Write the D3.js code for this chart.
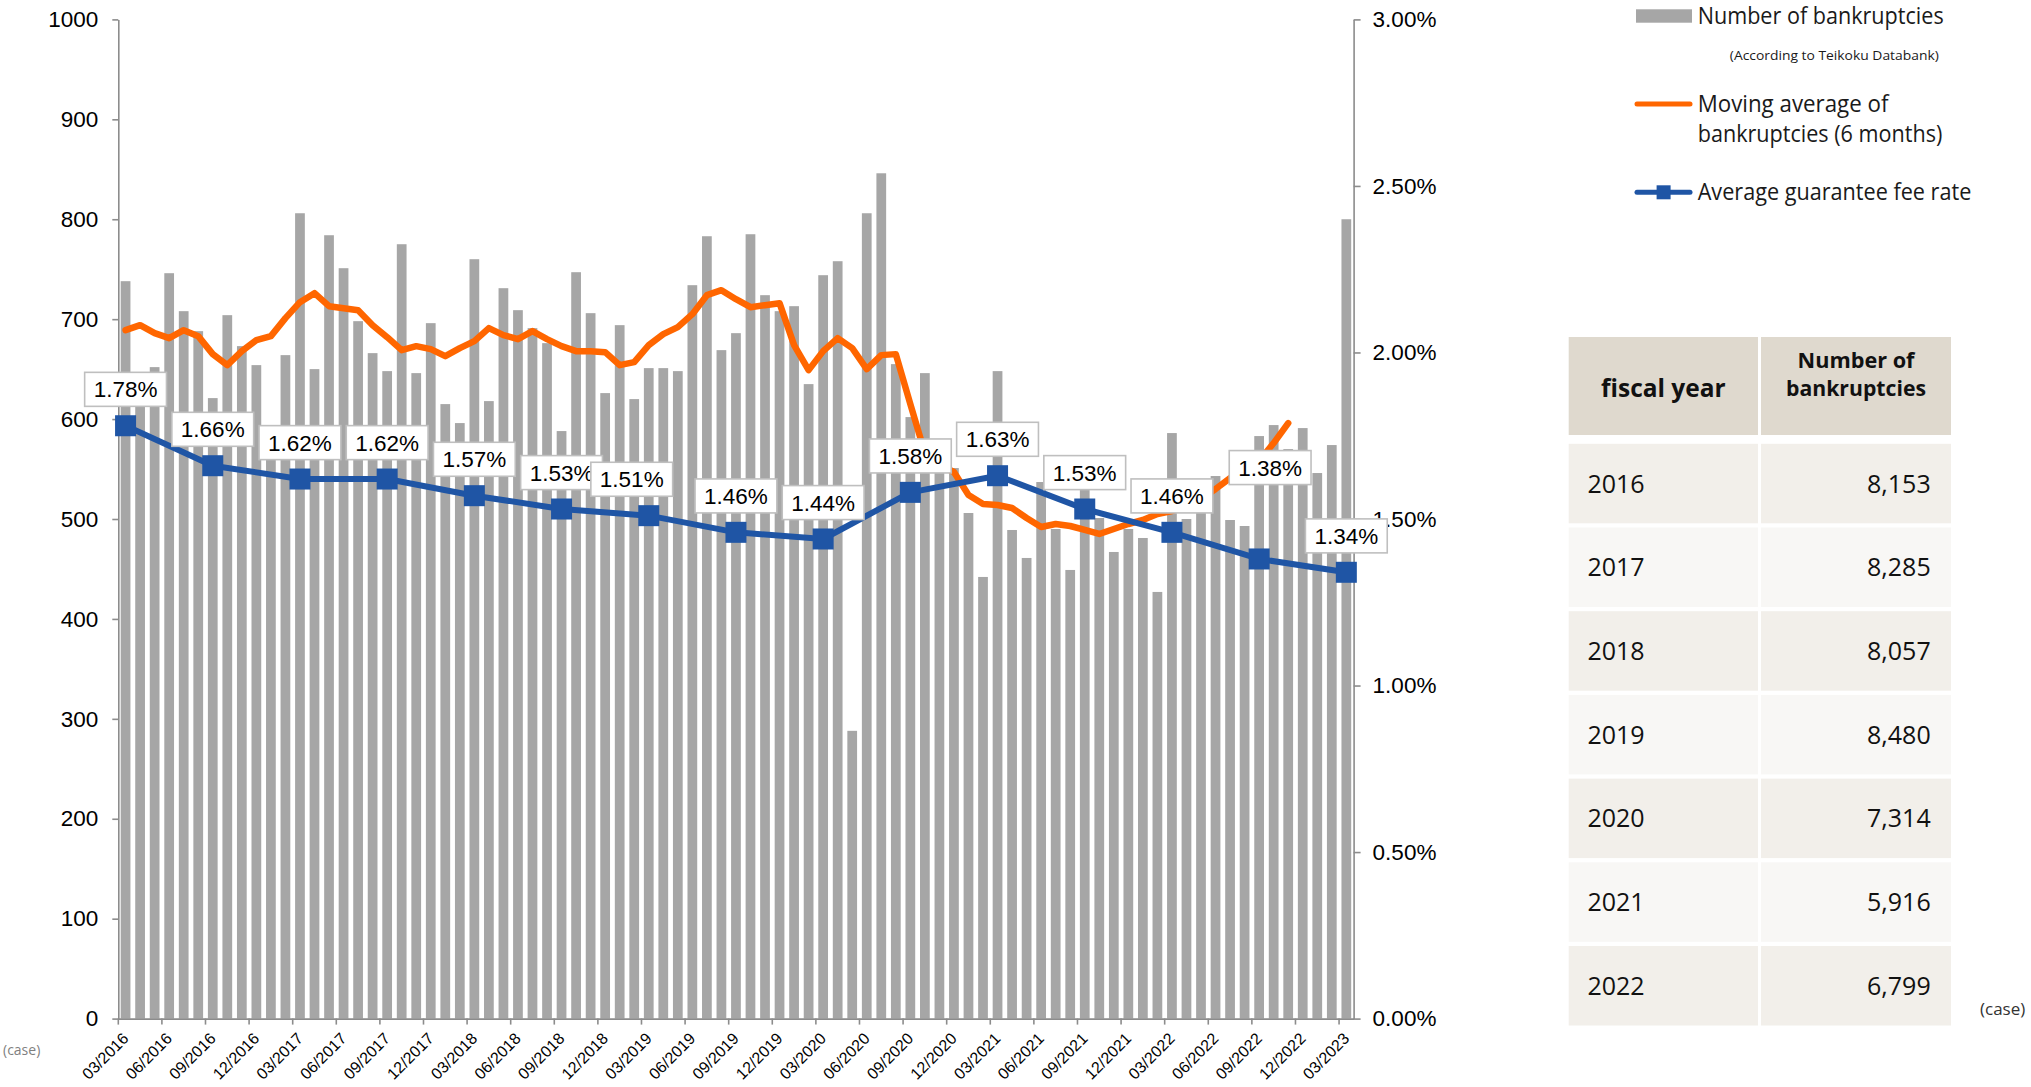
<!DOCTYPE html>
<html>
<head>
<meta charset="utf-8">
<script src="https://cdn.jsdelivr.net/npm/d3@7"></script>
<style>
  html, body { margin: 0; padding: 0; background: #fff; }
  svg { display: block; }
</style>
</head>
<body>
<svg id="chart" width="2031" height="1087"></svg>
<script>
// Monthly categories, March 2016 – March 2023
const months = [
  "03/2016","04/2016","05/2016","06/2016","07/2016","08/2016","09/2016","10/2016","11/2016","12/2016",
  "01/2017","02/2017","03/2017","04/2017","05/2017","06/2017","07/2017","08/2017","09/2017","10/2017","11/2017","12/2017",
  "01/2018","02/2018","03/2018","04/2018","05/2018","06/2018","07/2018","08/2018","09/2018","10/2018","11/2018","12/2018",
  "01/2019","02/2019","03/2019","04/2019","05/2019","06/2019","07/2019","08/2019","09/2019","10/2019","11/2019","12/2019",
  "01/2020","02/2020","03/2020","04/2020","05/2020","06/2020","07/2020","08/2020","09/2020","10/2020","11/2020","12/2020",
  "01/2021","02/2021","03/2021","04/2021","05/2021","06/2021","07/2021","08/2021","09/2021","10/2021","11/2021","12/2021",
  "01/2022","02/2022","03/2022","04/2022","05/2022","06/2022","07/2022","08/2022","09/2022","10/2022","11/2022","12/2022",
  "01/2023","02/2023","03/2023"
];

// Labelled months on the category axis (quarterly)
const tickLabels = [
  "03/2016","06/2016","09/2016","12/2016","03/2017","06/2017","09/2017","12/2017",
  "03/2018","06/2018","09/2018","12/2018","03/2019","06/2019","09/2019","12/2019",
  "03/2020","06/2020","09/2020","12/2020","03/2021","06/2021","09/2021","12/2021",
  "03/2022","06/2022","09/2022","12/2022","03/2023"
];

// Number of bankruptcies per month (cases)
const bankruptcies = [
  738,646,652,746,708,688,621,704,673,654,591,664,806,
  650,784,751,698,666,648,775,646,696,615,596,760,
  618,731,709,691,676,588,747,706,626,694,620,651,
  651,648,734,783,669,686,785,724,708,713,635,744,
  758,288,806,846,655,602,646,566,551,506,442,648,
  489,461,537,490,449,538,501,467,490,481,427,586,
  500,506,543,499,493,583,594,570,591,546,574,800
];

// 6‑month moving average of bankruptcies (series ends 11/2022)
const movingAverage = [
  689,694,686,681,689,683,665,654,668,679,683,701,717,
  726,713,711,709,694,682,669,673,670,663,671,678,
  691,684,680,688,680,673,668,668,667,654,657,674,
  685,692,705,724,729,720,712,714,716,674,649,668,
  681,671,650,664,665,615,566,554,547,524,515,514,
  511,501,492,495,493,489,485,490,495,499,505,508,
  514,520,530,541,550,558,576,596,null,null,null,null
];

// Average guarantee fee rate (%), half-yearly
const feeRateMonths = [
  "03/2016","09/2016","03/2017","09/2017","03/2018","09/2018","03/2019","09/2019",
  "03/2020","09/2020","03/2021","09/2021","03/2022","09/2022","03/2023"
];
const feeRates = [1.78,1.66,1.62,1.62,1.57,1.53,1.51,1.46,1.44,1.58,1.63,1.53,1.46,1.38,1.34];

// Fiscal-year totals for the side table
const fiscalYears = [2016,2017,2018,2019,2020,2021,2022];
const fiscalCounts = [8153,8285,8057,8480,7314,5916,6799];

// ---------------------------------------------------------------------------
const W = 2031, H = 1087;
const plot = { left: 118.3, right: 1353.6, top: 19.4, bottom: 1018.6 };
const axisFont = "'Liberation Sans', Arial, sans-serif";
const uiFont = "'Open Sans', 'Noto Sans', sans-serif";
const axisColor = "#8c8c8c";
const barColor = "#a6a6a6";
const orange = "#ff6600";
const blue = "#1f55a5";

const svg = d3.select("#chart");
svg.append("rect").attr("width", W).attr("height", H).attr("fill", "#fff");

const x = d3.scaleBand().domain(months)
  .range([plot.left, plot.right]).paddingInner(0.33).paddingOuter(0.165);
const cx = m => x(m) + x.bandwidth() / 2;
const bandStart = m => x(m) - (x.step() - x.bandwidth()) / 2;
const yL = d3.scaleLinear().domain([0, 1000]).range([plot.bottom, plot.top]);
const yR = d3.scaleLinear().domain([0, 3]).range([plot.bottom, plot.top]);

// Bars
svg.append("g").selectAll("rect").data(months).join("rect")
  .attr("x", m => x(m))
  .attr("width", x.bandwidth())
  .attr("y", (m, i) => yL(bankruptcies[i]))
  .attr("height", (m, i) => yL(0) - yL(bankruptcies[i]))
  .attr("fill", barColor);

// Left axis (cases)
const gL = svg.append("g").attr("transform", `translate(${plot.left},0)`)
  .call(d3.axisLeft(yL).tickValues(d3.range(0, 1001, 100)).tickFormat(d3.format("d"))
    .tickSize(6).tickPadding(14).tickSizeOuter(0));
// Right axis (fee rate)
const gR = svg.append("g").attr("transform", `translate(${plot.right},0)`)
  .call(d3.axisRight(yR).tickValues(d3.range(0, 3.001, 0.5)).tickFormat(d => d.toFixed(2) + "%")
    .tickSize(7).tickPadding(12).tickSizeOuter(0));
[gL, gR].forEach(g => {
  g.select(".domain").attr("stroke", axisColor).attr("stroke-width", 1.6);
  g.selectAll(".tick line").attr("stroke", axisColor).attr("stroke-width", 1.6);
  g.selectAll(".tick text").attr("font-family", axisFont).attr("font-size", 22.5).attr("fill", "#000");
});

// Bottom category axis
const gB = svg.append("g").attr("transform", `translate(0,${plot.bottom})`)
  .call(d3.axisBottom(x).tickValues(tickLabels).tickSize(0).tickSizeOuter(0));
gB.select(".domain").attr("stroke", axisColor).attr("stroke-width", 1.6);
gB.selectAll(".tick text")
  .attr("font-family", axisFont).attr("font-size", 16).attr("fill", "#000")
  .attr("text-anchor", "end")
  .attr("x", 0).attr("y", 0).attr("dy", "0.35em")
  .attr("transform", "translate(0,17) rotate(-45)");
// Tick marks sit between categories
svg.append("g").selectAll("line").data(tickLabels).join("line")
  .attr("x1", m => bandStart(m)).attr("x2", m => bandStart(m))
  .attr("y1", plot.bottom).attr("y2", plot.bottom + 6)
  .attr("stroke", axisColor).attr("stroke-width", 1.6);

// Moving average line
const maLine = d3.line()
  .defined(d => d[1] != null)
  .x(d => cx(d[0])).y(d => yL(d[1]));
svg.append("path")
  .datum(months.map((m, i) => [m, movingAverage[i]]))
  .attr("d", maLine)
  .attr("fill", "none").attr("stroke", orange).attr("stroke-width", 6.5)
  .attr("stroke-linejoin", "round").attr("stroke-linecap", "round");

// Fee rate line with square markers
const feeLine = d3.line().x(d => cx(d[0])).y(d => yR(d[1]));
const feeData = feeRateMonths.map((m, i) => [m, feeRates[i]]);
svg.append("path").datum(feeData).attr("d", feeLine)
  .attr("fill", "none").attr("stroke", blue).attr("stroke-width", 6)
  .attr("stroke-linejoin", "round");
const mk = 21;
svg.append("g").selectAll("rect").data(feeData).join("rect")
  .attr("x", d => cx(d[0]) - mk / 2).attr("y", d => yR(d[1]) - mk / 2)
  .attr("width", mk).attr("height", mk).attr("fill", blue);

// Data labels (boxed) above each fee-rate point
const labelNudge = { 6: [-17, 0], 13: [11, -55] };
const lblG = svg.append("g");
feeData.forEach((d, i) => {
  const [dx, dy] = labelNudge[i] || [0, 0];
  const px = cx(d[0]) + dx;
  const py = yR(d[1]) - 36.4 + dy;
  const g = lblG.append("g");
  const box = g.append("rect");
  const t = g.append("text")
    .attr("x", px).attr("y", py).attr("dy", "0.36em")
    .attr("text-anchor", "middle")
    .attr("font-family", axisFont).attr("font-size", 22.5).attr("fill", "#000")
    .text(d[1].toFixed(2) + "%");
  const w = t.node().getComputedTextLength() + 18, h = 34;
  box.attr("x", px - w / 2).attr("y", py - h / 2).attr("width", w).attr("height", h)
    .attr("fill", "#fff").attr("stroke", "#bfbfbf").attr("stroke-width", 1.6);
});

// "(case)" unit below the left axis
svg.append("text").attr("x", 3).attr("y", 1050).attr("dy", "0.35em")
  .attr("font-family", uiFont).attr("font-size", 14).attr("fill", "#7f7f7f")
  .text("(case)");

// Legend
const lg = svg.append("g").attr("font-family", uiFont).attr("fill", "#1a1a1a");
lg.append("rect").attr("x", 1636).attr("y", 9.3).attr("width", 56).attr("height", 13.4).attr("fill", barColor);
lg.append("text").attr("x", 1697.7).attr("y", 24).attr("font-size", 23)
  .attr("textLength", 246).attr("lengthAdjust", "spacingAndGlyphs").text("Number of bankruptcies");
lg.append("text").attr("x", 1729.8).attr("y", 60).attr("font-size", 13)
  .attr("textLength", 209).attr("lengthAdjust", "spacingAndGlyphs").text("(According to Teikoku Databank)");
lg.append("line").attr("x1", 1637).attr("x2", 1690).attr("y1", 104).attr("y2", 104)
  .attr("stroke", orange).attr("stroke-width", 5).attr("stroke-linecap", "round");
lg.append("text").attr("x", 1697.7).attr("y", 112).attr("font-size", 23)
  .attr("textLength", 190.7).attr("lengthAdjust", "spacingAndGlyphs").text("Moving average of");
lg.append("text").attr("x", 1697.7).attr("y", 142).attr("font-size", 23)
  .attr("textLength", 244.7).attr("lengthAdjust", "spacingAndGlyphs").text("bankruptcies (6 months)");
lg.append("line").attr("x1", 1637).attr("x2", 1690).attr("y1", 192.3).attr("y2", 192.3)
  .attr("stroke", blue).attr("stroke-width", 5).attr("stroke-linecap", "round");
lg.append("rect").attr("x", 1656.6).attr("y", 185.3).attr("width", 14).attr("height", 14).attr("fill", blue);
lg.append("text").attr("x", 1697.7).attr("y", 200).attr("font-size", 23)
  .attr("textLength", 273.6).attr("lengthAdjust", "spacingAndGlyphs").text("Average guarantee fee rate");

// Fiscal-year table
const tbl = svg.append("g").attr("font-family", uiFont).attr("fill", "#111");
const col1 = { x: 1568.7, w: 189.3 }, col2 = { x: 1761, w: 190 };
const headTop = 337, headH = 98;
tbl.append("rect").attr("x", col1.x).attr("y", headTop).attr("width", col1.w).attr("height", headH).attr("fill", "#dfd9ce");
tbl.append("rect").attr("x", col2.x).attr("y", headTop).attr("width", col2.w).attr("height", headH).attr("fill", "#dfd9ce");
tbl.append("text").attr("x", col1.x + col1.w / 2).attr("y", 388.5).attr("dy", "0.35em")
  .attr("text-anchor", "middle").attr("font-weight", "bold").attr("font-size", 25)
  .attr("textLength", 124.6).attr("lengthAdjust", "spacingAndGlyphs").text("fiscal year");
tbl.append("text").attr("x", col2.x + col2.w / 2).attr("y", 360).attr("dy", "0.35em")
  .attr("text-anchor", "middle").attr("font-weight", "bold").attr("font-size", 22)
  .attr("textLength", 117).attr("lengthAdjust", "spacingAndGlyphs").text("Number of");
tbl.append("text").attr("x", col2.x + col2.w / 2).attr("y", 388.5).attr("dy", "0.35em")
  .attr("text-anchor", "middle").attr("font-weight", "bold").attr("font-size", 22)
  .attr("textLength", 140).attr("lengthAdjust", "spacingAndGlyphs").text("bankruptcies");

const rowTop0 = 443.8, rowPitch = 83.7, rowH = 79.5;
const fmtCount = d3.format(",");
fiscalYears.forEach((yr, r) => {
  const top = rowTop0 + r * rowPitch;
  const fill = r % 2 === 0 ? "#f2efea" : "#f8f7f5";
  tbl.append("rect").attr("x", col1.x).attr("y", top).attr("width", col1.w).attr("height", rowH).attr("fill", fill);
  tbl.append("rect").attr("x", col2.x).attr("y", top).attr("width", col2.w).attr("height", rowH).attr("fill", fill);
  tbl.append("text").attr("x", 1587.4).attr("y", top + rowH / 2).attr("dy", "0.36em")
    .attr("font-size", 25).text(yr);
  tbl.append("text").attr("x", 1930.7).attr("y", top + rowH / 2).attr("dy", "0.36em")
    .attr("text-anchor", "end").attr("font-size", 25).text(fmtCount(fiscalCounts[r]));
});
svg.append("text").attr("x", 1980).attr("y", 1009).attr("dy", "0.35em")
  .attr("font-family", uiFont).attr("font-size", 17).attr("fill", "#333")
  .text("(case)");
</script>
</body>
</html>
